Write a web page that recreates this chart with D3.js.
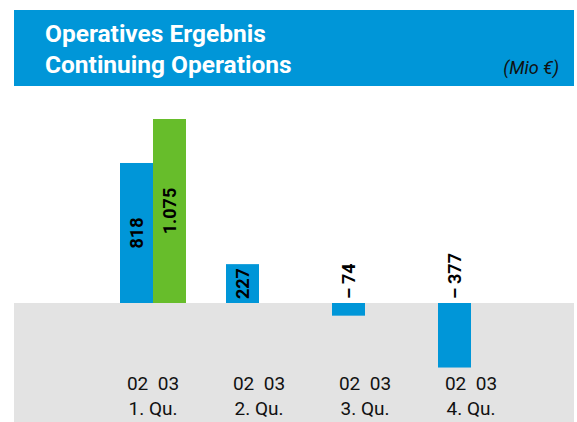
<!DOCTYPE html>
<html>
<head>
<meta charset="utf-8">
<script src="https://cdn.jsdelivr.net/npm/d3@7"></script>
<style>
  body { margin: 0; background: #fff; }
  svg { display: block; font-family: "Roboto", "Liberation Sans", sans-serif; }
</style>
</head>
<body>
<svg id="chart" width="577" height="422"></svg>
<script>
// chart data
const quarters = ['1. Qu.', '2. Qu.', '3. Qu.', '4. Qu.']
const years = ['02', '03']
const values02 = [818, 227, -74, -377]
const values03 = [1075, null, null, null]
const titleLines = ['Operatives Ergebnis', 'Continuing Operations']
const unitLabel = '(Mio €)'

const colors = { '02': '#0096d8', '03': '#67bd2b' }

const svg = d3.select('#chart')

// header band
svg.append('rect')
    .attr('x', 14).attr('y', 10)
    .attr('width', 560).attr('height', 76)
    .attr('fill', '#0096d8')

svg.append('g')
    .selectAll('text')
    .data(titleLines)
    .enter().append('text')
    .attr('x', 45)
    .attr('y', function(d, i) { return 42 + i * 31 })
    .attr('fill', '#fff')
    .style('font-weight', 'bold')
    .style('font-size', '24.5px')
    .text(function(d) { return d })

svg.append('text')
    .attr('x', 559).attr('y', 74)
    .attr('text-anchor', 'end')
    .attr('fill', '#111')
    .style('font-style', 'italic')
    .style('font-size', '18px')
    .text(unitLabel)

// scales
const x = d3.scaleBand()
    .domain(quarters)
    .range([100, 524])
    .paddingInner(40 / 106)
    .paddingOuter(20 / 106)

const xInner = d3.scaleBand()
    .domain(years)
    .range([0, x.bandwidth()])

const y = d3.scaleLinear()
    .domain([0, 1075])
    .range([303, 119])

// grey area below zero
svg.append('rect')
    .attr('x', 14).attr('y', y(0))
    .attr('width', 560).attr('height', 422 - y(0))
    .attr('fill', '#e3e3e3')

const rows = []
quarters.forEach(function(q, i) {
    if (values02[i] != null) rows.push({ q: q, year: '02', v: values02[i] })
    if (values03[i] != null) rows.push({ q: q, year: '03', v: values03[i] })
})

const fmt = function(v) {
    const s = d3.format(',')(Math.abs(v)).replace(/,/g, '.')
    return v < 0 ? '–\u2009' + s : s
}

const bars = svg.append('g')
bars.selectAll('rect')
    .data(rows)
    .enter().append('rect')
    .attr('x', function(d) { return x(d.q) + xInner(d.year) })
    .attr('width', xInner.bandwidth())
    .attr('y', function(d) { return Math.min(y(d.v), y(0)) })
    .attr('height', function(d) { return Math.abs(y(d.v) - y(0)) })
    .attr('fill', function(d) { return colors[d.year] })

// value labels, rotated
bars.selectAll('text')
    .data(rows)
    .enter().append('text')
    .attr('transform', function(d) {
        const cx = x(d.q) + xInner(d.year) + xInner.bandwidth() / 2
        const cy = d.v >= 0 ? (y(d.v) + y(0)) / 2 : y(0) - 4
        return 'translate(' + cx + ',' + cy + ') rotate(-90)'
    })
    .attr('text-anchor', function(d) { return d.v >= 0 ? 'middle' : 'start' })
    .attr('dy', '0.36em')
    .attr('fill', '#000')
    .style('font-weight', 'bold')
    .style('font-size', '18px')
    .text(function(d) { return fmt(d.v) })

// x axis labels
const axis = svg.append('g')
axis.selectAll('.yr')
    .data(quarters)
    .enter().append('text')
    .attr('class', 'yr')
    .attr('x', function(d) { return x(d) + x.bandwidth() / 2 })
    .attr('y', 390)
    .attr('text-anchor', 'middle')
    .attr('fill', '#111')
    .attr('xml:space', 'preserve')
    .style('font-size', '19px')
    .text(years.join('  '))

axis.selectAll('.qu')
    .data(quarters)
    .enter().append('text')
    .attr('class', 'qu')
    .attr('x', function(d) { return x(d) + x.bandwidth() / 2 })
    .attr('y', 415)
    .attr('text-anchor', 'middle')
    .attr('fill', '#111')
    .style('font-size', '19px')
    .text(function(d) { return d })
</script>
</body>
</html>
